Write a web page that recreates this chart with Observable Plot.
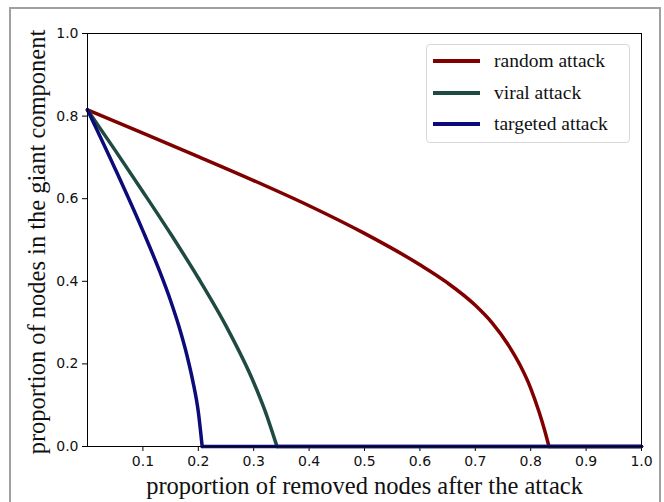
<!DOCTYPE html>
<html>
<head>
<meta charset="utf-8">
<script src="https://cdn.jsdelivr.net/npm/d3@7"></script>
<script src="https://cdn.jsdelivr.net/npm/@observablehq/plot@0.6"></script>
<style>
  html, body { margin: 0; padding: 0; background: #fff; }
  #wrap { position: relative; width: 664px; height: 502px; overflow: hidden; }
  #outer { position: absolute; left: 9px; top: 7px; width: 652px; height: 600px; border: 2px solid #a0a0a0; box-sizing: border-box; pointer-events: none; }
  #legend { position: absolute; left: 426px; top: 44px; width: 204px; height: 99px; box-sizing: border-box;
            border: 1px solid #d8d8d8; border-radius: 4px; background: #fff;
            font-family: "Liberation Serif", "DejaVu Serif", serif; font-size: 19.5px; color: #111; }
  .item { position: absolute; left: 6px; height: 24px; display: flex; align-items: center; }
  .item .sw { width: 47px; height: 4px; margin-right: 14px; }
  svg text { fill: #111; }
</style>
</head>
<body>
<div id="wrap"></div>
<script>
// ---- data ----
const seriesNames = ["random attack", "viral attack", "targeted attack"];
const seriesColors = ["#800000", "#1f4a42", "#0b0b7a"];

const randomX = [0, 0.1, 0.2, 0.3, 0.4, 0.5, 0.6, 0.65, 0.7, 0.73, 0.76, 0.78, 0.8, 0.815, 0.825, 0.833];
const randomY = [0.815, 0.759, 0.702, 0.644, 0.583, 0.516, 0.440, 0.396, 0.342, 0.300, 0.245, 0.199, 0.141, 0.084, 0.040, 0];

const viralX = [0, 0.05, 0.1, 0.15, 0.2, 0.25, 0.3, 0.32, 0.342];
const viralY = [0.815, 0.717, 0.617, 0.515, 0.408, 0.292, 0.155, 0.088, 0];

const targetedX = [0, 0.05, 0.1, 0.13, 0.15, 0.165, 0.18, 0.19, 0.2, 0.207];
const targetedY = [0.815, 0.672, 0.522, 0.425, 0.353, 0.291, 0.218, 0.159, 0.084, 0];

const xTicks = [0.1, 0.2, 0.3, 0.4, 0.5, 0.6, 0.7, 0.8, 0.9, 1.0];
const yTicks = [0.0, 0.2, 0.4, 0.6, 0.8, 1.0];
const xLabel = "proportion of removed nodes after the attack";
const yLabel = "proportion of nodes in the giant component";

// ---- build tables ----
const xs = [randomX, viralX, targetedX];
const ys = [randomY, viralY, targetedY];
const curves = [];
const tails = [];
seriesNames.forEach((name, i) => {
  xs[i].forEach((x, j) => curves.push({series: name, x, y: ys[i][j]}));
  const last = xs[i][xs[i].length - 1];
  tails.push({series: name, x: last, y: 0});
  tails.push({series: name, x: 1.0, y: 0});
});

const serif = "'Liberation Serif', 'DejaVu Serif', serif";
const sans = "'DejaVu Sans', sans-serif";

const chart = Plot.plot({
  width: 664,
  height: 502,
  marginLeft: 87,
  marginRight: 23,
  marginTop: 33,
  marginBottom: 56,
  style: {fontFamily: sans, fontSize: "14px", background: "transparent", overflow: "visible"},
  x: {domain: [0, 1]},
  y: {domain: [0, 1]},
  color: {domain: seriesNames, range: seriesColors},
  marks: [
    Plot.axisX({ticks: xTicks, tickFormat: d3.format(".1f"), tickSize: 5, tickPadding: 5, label: null, fontSize: 14}),
    Plot.axisY({ticks: yTicks, tickFormat: d3.format(".1f"), tickSize: 5, tickPadding: 4, label: null, fontSize: 14}),
    Plot.line(curves, {x: "x", y: "y", z: "series", stroke: "series", strokeWidth: 3.5, curve: "monotone-x"}),
    Plot.line(tails, {x: "x", y: "y", z: "series", stroke: "series", strokeWidth: 3.5}),
    Plot.frame({stroke: "#000", strokeWidth: 1}),
    Plot.text([xLabel], {frameAnchor: "bottom", dy: 40, lineAnchor: "middle", textAnchor: "middle", fontFamily: serif, fontSize: 24.5, fill: "#111"}),
    Plot.text([yLabel], {frameAnchor: "left", rotate: -90, dx: -50, dy: 2, lineAnchor: "middle", textAnchor: "middle", fontFamily: serif, fontSize: 24.5, fill: "#111"})
  ]
});

const wrap = document.getElementById("wrap");
chart.style.position = "absolute";
chart.style.left = "0px";
chart.style.top = "0px";
wrap.appendChild(chart);

const outer = document.createElement("div");
outer.id = "outer";
wrap.appendChild(outer);

const legend = document.createElement("div");
legend.id = "legend";
seriesNames.forEach((name, i) => {
  const it = document.createElement("div");
  it.className = "item";
  it.style.top = (4 + i * 31.5) + "px";
  const sw = document.createElement("span");
  sw.className = "sw";
  sw.style.background = seriesColors[i];
  const tx = document.createElement("span");
  tx.textContent = name;
  it.appendChild(sw);
  it.appendChild(tx);
  legend.appendChild(it);
});
wrap.appendChild(legend);
</script>
</body>
</html>
